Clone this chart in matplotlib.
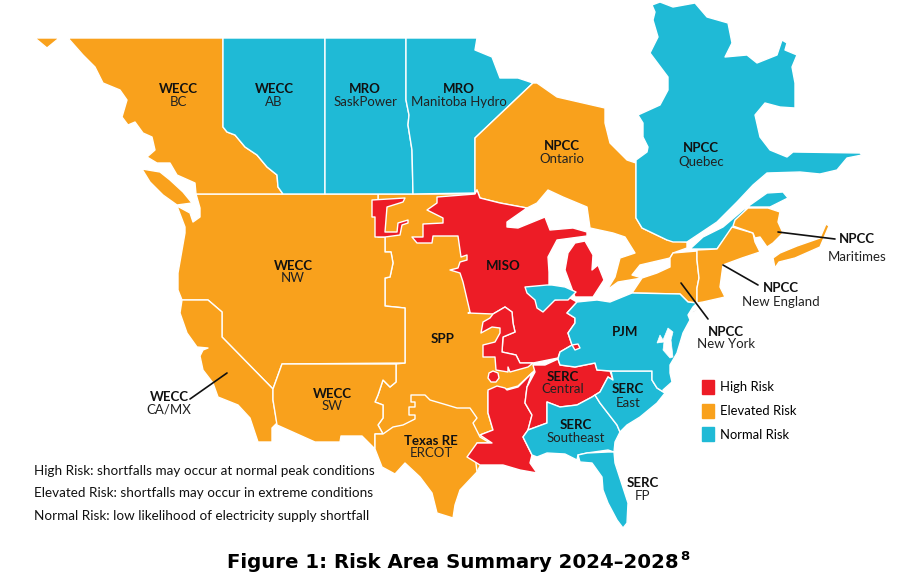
import matplotlib
matplotlib.use('Agg')
import matplotlib.pyplot as plt
from matplotlib.patches import Polygon, Patch

RED = '#ED1C26'
ORANGE = '#F9A11C'
BLUE = '#1FBAD6'

# region outlines (pixel coords of the map)
bc = [(35,38),(223,38),(223,127),(227,132),(235,135),(245,147),(257,155),(267,167),(277,175),(278,187),(283,194),(196,194),
      (195,183),(177,175),(170,163),(157,163),(147,157),(155,150),(152,137),(143,133),(135,122),(128,125),(122,117),(127,100),
      (120,90),(103,83),(95,67),(83,55),(68,38),(58,39),(47,48)]
van_island = [(142,169),(160,172),(170,180),(183,192),(192,203),(177,205),(163,195),(150,182)]
ab = [(223,38),(325,38),(325,194),(283,194),(278,187),(277,175),(267,167),(257,155),(245,147),(235,135),(227,132),(223,127)]
sk = [(325,38),(406,38),(406,100),(409,115),(408,125),(412,150),(413,194),(325,194)]
mb = [(406,38),(477,38),(475,50),(492,57),(500,78),(518,78),(533,83),(475,138),(475,193),(413,194),(412,150),(408,125),(409,115),(406,100)]
ontario = [(475,138),(533,83),(537,83),(557,97),(605,108),(605,123),(610,143),(627,160),(636,163),(636,218),(642,228),(667,240),
           (687,242),(687,248),(673,253),(670,258),(640,265),(632,275),(642,278),(618,282),(607,290),(615,277),(620,258),(635,253),
           (625,237),(613,233),(590,228),(587,207),(563,197),(548,190),(537,203),(527,208),(500,203),(480,198),(477,190),(475,193)]
quebec = [(652,5),(660,2),(673,7),(695,3),(707,17),(728,23),(732,43),(725,57),(747,55),(757,63),(777,55),(782,40),(787,43),(785,50),
          (797,55),(792,67),(795,83),(795,108),(780,107),(765,103),(755,115),(760,137),(770,150),(787,157),(793,152),(860,153),
          (862,155),(847,158),(837,170),(820,174),(800,172),(767,173),(753,185),(737,202),(717,222),(687,242),(673,242),(667,240),
          (642,228),(636,218),(636,160),(647,152),(648,147),(643,137),(643,123),(638,115),(660,105),(668,90),(668,77),(650,53),
          (658,37),(653,20),(655,12)]
gaspe = [(690,249),(717,249),(733,227),(748,207),(770,207),(788,198),(783,192),(767,193),(743,210),(723,227),(703,237)]
nw = [(196,194),(378,194),(378,237),(385,237),(385,252),(391,252),(393,263),(390,277),(385,278),(385,306),(405,308),(405,363),
      (282,364),(273,389),(222,337),(222,312),(208,300),(182,300),(178,290),(178,273),(185,233),(185,227),(177,206),(190,213),
      (193,222),(200,217),(200,208)]
ca_mx = [(182,300),(208,300),(222,312),(222,337),(273,389),(273,400),(277,423),(272,428),(272,442),(258,442),(250,418),(238,405),
         (218,397),(213,383),(203,370),(200,356),(203,350),(208,348),(197,347),(187,333),(180,313)]
sw = [(282,364),(396,364),(396,382),(390,387),(383,380),(378,395),(375,402),(383,405),(383,418),(378,425),(383,434),(375,434),
      (375,449),(362,436),(341,436),(340,442),(315,442),(277,425),(273,400),(273,389)]
spp = [(378,194),(475,194),(480,300),(500,316),(505,370),(533,363),(535,370),(518,386),(507,389),(497,391),(488,392),(488,413),
       (493,430),(480,435),(492,443),(477,472),(460,480),(440,470),(375,449),(375,434),
       (383,434),(378,425),(383,418),(383,405),(375,402),(378,395),(383,380),(390,387),(396,382),(396,364),(405,363),(405,308),
       (385,306),(385,278),(390,277),(393,263),(391,252),(385,252),(385,237),(378,237)]
ercot = [(375,434),(383,434),(393,427),(403,425),(415,419),(415,415),(409,415),(409,407),(415,407),(415,402),(411,402),(411,395),
         (425,395),(430,400),(447,405),(457,408),(470,408),(477,418),(473,423),(480,437),(490,443),(477,443),(475,455),(477,472),
         (460,490),(455,505),(453,518),(437,513),(432,493),(420,477),(405,463),(395,474),(382,467),(375,449)]
miso_dakota = [(372,200),(405,198),(403,202),(387,207),(385,232),(397,232),(398,223),(408,220),(408,223),(402,225),(400,235),(385,237),
               (375,237),(375,217),(372,217)]
miso_main = [(437,197),(437,203),(427,210),(443,218),(443,223),(423,224),(423,237),(412,237),(417,243),(432,243),(433,236),(458,236),
             (461,257),(467,255),(467,260),(460,262),(458,268),(450,270),(460,273),(463,282),(470,312),(468,313),(493,314),(505,307),
             (512,312),(513,323),(515,332),(503,337),(502,352),(516,355),(520,363),(533,363),(558,358),(560,352),(572,345),(568,333),
             (575,323),(575,318),(567,313),(577,302),(570,298),(555,300),(549,288),(549,272),(548,257),(557,240),(587,236),(587,232),
             (573,228),(550,230),(545,217),(518,228),(507,227),(507,222),(527,208),(500,203),(480,198),(477,190),(475,194)]
miso_aeci = [(493,314),(505,307),(512,312),(513,323),(515,332),(503,337),(502,352),(516,355),(520,363),(533,363),(528,367),(510,372),
             (508,367),(508,372),(496,370),(495,357),(483,357),(483,345),(495,342),(500,333),(500,328),(492,327),(481,333),(483,322),(490,318)]
miso_south = [(488,390),(497,386),(505,388),(507,390),(518,387),(532,373),(527,387),(525,403),(532,415),(528,430),(523,437),(532,455),
              (530,463),(537,473),(520,470),(503,465),(480,465),(467,457),(477,443),(492,443),(480,435),(493,430),(488,413)]
miso_dot = [(489,373),(493,371),(498,373),(499,378),(496,382),(491,382),(488,378)]
michigan = [(575,243),(585,241),(593,255),(592,270),(598,265),(604,280),(593,297),(575,297),(565,270),(568,253)]
chicago = [(525,287),(547,285),(552,285),(565,287),(576,292),(568,300),(555,300),(543,312),(537,308),(535,300),(527,293)]
serc_central = [(533,365),(545,365),(558,359),(560,365),(575,367),(595,363),(597,370),(610,371),(613,380),(608,377),(600,392),(592,397),
                (577,405),(560,407),(547,402),(547,423),(528,430),(532,415),(525,403),(527,387),(535,372)]
serc_se = [(547,402),(560,407),(577,405),(592,397),(595,395),(600,403),(617,425),(620,432),(615,442),(614,452),(608,450),(587,453),
           (578,455),(577,460),(565,454),(547,453),(537,457),(532,455),(523,437),(528,430),(547,423)]
serc_fp = [(578,455),(587,453),(608,452),(614,452),(615,463),(628,503),(627,523),(623,528),(617,520),(608,503),(603,490),(602,477),
           (592,463),(580,462)]
serc_east = [(611,371),(652,371),(652,380),(657,388),(665,393),(657,403),(640,417),(627,425),(620,432),(617,425),(600,403),(595,395),
             (600,392),(608,377),(613,380)]
pjm = [(567,313),(577,302),(597,300),(610,302),(632,293),(680,294),(688,302),(697,303),(693,307),(688,315),(690,320),(683,333),(677,353),
       (670,365),(670,373),(672,382),(663,390),(665,393),(657,388),(652,380),(652,371),(611,371),(597,370),(595,363),(575,367),
       (560,365),(558,359),(560,352),(572,345),(568,333),(575,323),(575,318)]
pjm_spot = [(572,345),(578,344),(580,348),(575,350)]
new_york = [(632,293),(642,278),(657,273),(670,267),(670,258),(673,253),(697,251),(697,260),(699,278),(697,288),(697,303),(688,302),(680,294)]
new_england = [(697,250),(717,249),(732,227),(753,233),(755,242),(760,252),(742,258),(723,265),(720,287),(725,297),(703,302),(697,303),
               (697,288),(699,278),(697,260)]
new_brunswick = [(733,226),(735,220),(748,208),(768,208),(780,212),(778,222),(783,233),(773,243),(767,247),(760,237),(755,238),(753,233)]
nova_scotia = [(775,268),(779,262),(795,258),(820,247),(829,226),(826,224),(820,238),(797,246),(780,253),(773,258)]
long_island = [(691,312),(705,305),(703,307),(693,313)]

# bays, drawn white on top
chesapeake = [(668,328),(673,332),(671,340),(673,357),(670,358),(663,350),(664,342),(657,343),(660,335),(663,340)]

regions = [
    (spp, ORANGE), (nw, ORANGE), (ca_mx, ORANGE), (sw, ORANGE), (ercot, ORANGE),
    (bc, ORANGE), (van_island, ORANGE), (ab, BLUE), (sk, BLUE), (mb, BLUE),
    (ontario, ORANGE), (quebec, BLUE), (gaspe, BLUE),
    (new_york, ORANGE), (new_england, ORANGE), (new_brunswick, ORANGE), (nova_scotia, ORANGE),
    (miso_dakota, RED), (miso_main, RED), (miso_aeci, RED), (miso_south, RED), (miso_dot, RED), (michigan, RED),
    (serc_central, RED), (serc_se, BLUE), (serc_fp, BLUE), (serc_east, BLUE), (pjm, BLUE), (pjm_spot, RED), (chicago, BLUE),
    (long_island, '#D8D8D8'),
]

# bold name, second line, x, y of the bold line
names = ['WECC', 'WECC', 'MRO', 'MRO', 'NPCC', 'NPCC', 'WECC', 'WECC', 'WECC', 'Texas RE', 'SERC', 'SERC', 'SERC', 'SERC', 'NPCC', 'NPCC', 'NPCC']
subs = ['BC', 'AB', 'SaskPower', 'Manitoba Hydro', 'Ontario', 'Quebec', 'NW', 'CA/MX', 'SW', 'ERCOT', 'Central', 'East', 'Southeast', 'FP', 'Maritimes', 'New England', 'New York']
name_x = [178, 274, 365, 459, 562, 701, 293, 169, 332, 431, 563, 628, 576, 643, 857, 781, 726]
name_y = [89, 89, 89, 89, 146, 148, 266, 397, 394, 441, 377, 389, 425, 483, 239, 288, 332]
sub_y = [102, 102, 102, 102, 159, 162, 278, 409, 406, 453, 389, 403, 438, 496, 257, 302, 344]

leaders = [((190,399),(227,373)), ((778,232),(835,239)), ((723,265),(758,285)), ((681,283),(708,319))]

notes = ['High Risk: shortfalls may occur at normal peak conditions',
         'Elevated Risk: shortfalls may occur in extreme conditions',
         'Normal Risk: low likelihood of electricity supply shortfall']
note_y = [471, 493, 516]

plt.rcParams['font.family'] = ['Lato', 'DejaVu Sans']

fig = plt.figure(figsize=(9.19, 5.84), dpi=100)
ax = fig.add_axes([0, 0, 1, 1])
ax.set_xlim(0, 919)
ax.set_ylim(584, 0)
ax.axis('off')

for pts, col in regions:
    ax.add_patch(Polygon(pts, closed=True, facecolor=col, edgecolor='white', linewidth=1.0, joinstyle='round'))
ax.add_patch(Polygon(chesapeake, closed=True, facecolor='white', edgecolor='white', linewidth=0.5))

for a, b in leaders:
    ax.plot([a[0], b[0]], [a[1], b[1]], color='#111111', lw=1.2, solid_capstyle='round')

for n, s, x, y1, y2 in zip(names, subs, name_x, name_y, sub_y):
    ax.text(x, y1, n, ha='center', va='center', fontsize=9.5, fontweight='bold', color='#111111')
    ax.text(x, y2, s, ha='center', va='center', fontsize=9.5, color='#222222')
ax.text(443, 339, 'SPP', ha='center', va='center', fontsize=9.5, fontweight='bold', color='#111111')
ax.text(625, 332, 'PJM', ha='center', va='center', fontsize=9.5, fontweight='bold', color='#111111')
ax.text(503, 266, 'MISO', ha='center', va='center', fontsize=9.5, fontweight='bold', color='#111111')

for t, y in zip(notes, note_y):
    ax.text(34, y, t, ha='left', va='center', fontsize=9.7, color='#111111')

handles = [Patch(color=RED, label='High Risk'), Patch(color=ORANGE, label='Elevated Risk'), Patch(color=BLUE, label='Normal Risk')]
leg = ax.legend(handles=handles, loc='upper left', bbox_to_anchor=(702/919, 1-380/584), frameon=False, fontsize=9.4,
                handlelength=0.92, handleheight=1.28, handletextpad=0.48, labelspacing=0.73, borderpad=0, borderaxespad=0)

ax.text(227, 563, 'Figure 1: Risk Area Summary 2024\u20132028', ha='left', va='center', fontsize=14.2, fontweight='bold',
        family='DejaVu Sans', color='black')
ax.text(685, 556, '8', ha='center', va='center', fontsize=9.5, fontweight='bold', family='DejaVu Sans', color='black')

fig.savefig('out.png', dpi=100)
